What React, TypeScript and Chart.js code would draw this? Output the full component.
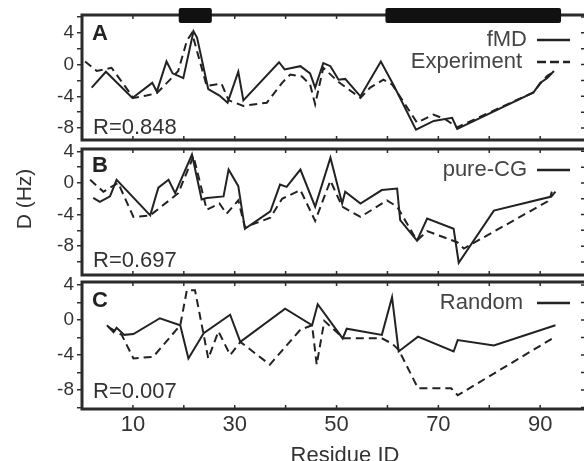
import React, { useEffect, useRef } from "react";
import { Chart, registerables } from "chart.js";

Chart.register(...registerables);

const FONT = '"Liberation Sans", Arial, Helvetica, sans-serif';
const INK = "#222";

// ---- axes ----
const xMin = 0;
const xMax = 99;
const xTickValues = [10, 20, 30, 40, 50, 60, 70, 80, 90];
const xLabelValues = [10, 30, 50, 70, 90];
const yTickValues = [-10, -8, -6, -4, -2, 0, 2, 4, 6];
const yLabelValues = [-8, -4, 0, 4];

// secondary-structure bars (residue ranges)
const helixStart = [19, 59.6];
const helixEnd = [25.5, 94.1];

type Pt = [number, number];

// ---- Panel A ----
const fmdA: Pt[] = [
  [1.9, -2.9], [4.7, -0.9], [9.9, -4.2], [13.8, -2.3], [14.7, -3.4], [16.6, 0.4],
  [17.8, -1.1], [19.9, -1.7], [21.9, 4.2], [22.6, 3.4], [24.8, -3.1], [27.0, -3.9],
  [28.6, -4.8], [30.7, -0.9], [31.7, -4.5], [38.7, 0.3], [39.8, -0.6], [42.9, -0.2],
  [44.8, -1.1], [45.8, -2.9], [47.4, 0.2], [48.8, -0.2], [50.4, -1.9], [51.7, -1.8],
  [54.7, -4.0], [58.7, 0.4], [61.3, -2.7], [65.6, -8.2], [69.1, -7.1], [72.7, -6.7],
  [73.7, -8.1], [88.7, -3.5], [90.0, -2.3], [91.4, -1.7], [92.7, -0.8],
];
const expA: Pt[] = [
  [0.6, 0.4], [2.9, -0.8], [5.8, -0.4], [9.1, -3.3], [10.1, -4.2], [12.7, -3.9],
  [14.7, -3.6], [17.3, -1.9], [18.9, -0.8], [20.6, 3.0], [21.6, 4.0], [24.5, -2.7],
  [27.4, -2.4], [28.8, -4.5], [31.7, -5.2], [36.3, -4.8], [39.3, -2.3], [40.9, -1.25],
  [43.2, -1.5], [44.8, -2.5], [45.8, -5.0], [47.4, -0.4], [50.4, -2.2], [54.7, -4.2],
  [56.6, -2.9], [59.2, -1.9], [60.9, -2.5], [65.8, -7.3], [69.0, -6.3], [71.4, -6.9],
  [73.7, -7.9], [88.7, -3.5], [90.0, -2.4], [91.4, -1.4], [92.7, -0.9],
];

// ---- Panel B ----
const cgB: Pt[] = [
  [2.2, -1.9], [3.5, -2.4], [5.5, -1.7], [6.8, 0.4], [13.4, -4.1], [15.0, -0.6],
  [17.0, 0.4], [18.3, -1.3], [21.6, 3.6], [23.5, -2.1], [24.5, -1.9], [27.8, -1.7],
  [28.8, 1.7], [30.7, -0.4], [32.0, -5.8], [37.0, -3.6], [38.9, -0.2], [40.2, -0.5],
  [42.9, 1.7], [45.8, -3.0], [48.8, 3.2], [51.1, -2.6], [51.7, -1.1], [54.7, -2.6],
  [58.9, -0.9], [61.9, -0.7], [62.5, -4.7], [65.8, -7.3], [67.8, -4.5], [73.0, -5.8],
  [74.0, -10.1], [80.9, -3.5], [92.0, -1.75], [92.3, -1.1],
];
const expB: Pt[] = [
  [1.6, 0.4], [4.2, -1.1], [7.1, 0.0], [10.1, -4.3], [13.4, -4.1], [18.9, -1.3],
  [21.9, 3.4], [24.5, -3.4], [27.0, -2.6], [28.4, -3.9], [30.7, -2.2], [32.0, -5.6],
  [37.0, -4.4], [39.3, -2.0], [42.9, -0.9], [45.8, -4.8], [48.8, 0.3], [51.1, -3.0],
  [54.7, -4.3], [59.9, -2.2], [61.9, -3.0], [65.8, -7.3], [67.8, -6.1], [73.7, -7.5],
  [75.0, -8.3], [91.4, -2.35], [93.0, -1.1],
];

// ---- Panel C ----
const randC: Pt[] = [
  [4.9, -0.6], [6.2, -1.4], [6.8, -0.9], [8.3, -1.7], [10.1, -1.6], [15.3, 0.2],
  [19.3, -0.6], [20.9, -4.4], [23.9, -1.5], [29.1, 0.6], [31.1, -2.5], [39.9, 1.3],
  [45.2, -0.6], [46.3, 1.8], [51.2, -2.1], [52.0, -1.0], [58.9, -1.7], [60.9, 2.6],
  [62.2, -3.6], [66.0, -1.9], [73.0, -3.6], [73.8, -2.3], [80.9, -2.9], [93.0, -0.6],
];
const expC: Pt[] = [
  [5.2, -0.8], [7.8, -1.7], [10.1, -4.4], [14.0, -4.2], [19.3, -0.6], [20.6, 3.4],
  [22.2, 3.4], [24.8, -4.4], [26.8, -1.3], [29.1, -4.0], [31.1, -2.5], [36.9, -5.1],
  [42.9, -1.1], [45.2, -0.6], [46.1, -5.1], [47.6, -0.1], [51.4, -2.1], [58.9, -2.1],
  [60.9, -2.7], [62.2, -3.4], [66.0, -7.8], [72.5, -7.8], [73.8, -8.6], [93.0, -1.9],
];

const toXY = (pts: Pt[]) => pts.map(([x, y]) => ({ x, y }));

interface LegendItem { label: string; dashed: boolean; y: number; textRight: number }
interface Series { label: string; pts: Pt[]; dashed: boolean }
interface PanelDef {
  top: number; height: number; padTop: number; padBottom: number;
  yMin: number; yMax: number;
  series: Series[];
  letter: string; letterY: number; rText: string; rY: number;
  legend: LegendItem[];
  showX?: boolean; helices?: boolean;
  yTitle?: { x: number; y: number; text: string };
  xTitle?: { x: number; y: number; text: string };
}

const panels: PanelDef[] = [
  {
    top: 0, height: 160, padTop: 15, padBottom: 20, yMin: -9.5, yMax: 6.25,
    series: [
      { label: "fMD", pts: fmdA, dashed: false },
      { label: "Experiment", pts: expA, dashed: true },
    ],
    letter: "A", letterY: 34, rText: "R=0.848", rY: 128,
    legend: [
      { label: "fMD", dashed: false, y: 40, textRight: 527 },
      { label: "Experiment", dashed: true, y: 62, textRight: 522 },
    ],
    helices: true,
  },
  {
    top: 125, height: 170, padTop: 24, padBottom: 20, yMin: -11.65, yMax: 4.3,
    series: [
      { label: "pure-CG", pts: cgB, dashed: false },
      { label: "Experiment", pts: expB, dashed: true },
    ],
    letter: "B", letterY: 166, rText: "R=0.697", rY: 261,
    legend: [{ label: "pure-CG", dashed: false, y: 170, textRight: 527 }],
    yTitle: { x: 25, y: 199, text: "D (Hz)" },
  },
  {
    top: 258, height: 215, padTop: 24, padBottom: 34, yMin: -10.17, yMax: 4.34,
    series: [
      { label: "Random", pts: randC, dashed: false },
      { label: "Experiment", pts: expC, dashed: true },
    ],
    letter: "C", letterY: 301, rText: "R=0.007", rY: 392,
    legend: [{ label: "Random", dashed: false, y: 303, textRight: 523 }],
    showX: true,
    xTitle: { x: 345, y: 462, text: "Residue ID" },
  },
];

function decor(def: PanelDef) {
  return {
    id: "decor" + def.letter,
    afterDraw(chart: any) {
      const { ctx, chartArea: a } = chart;
      const x = chart.scales.x;
      const y = chart.scales.y;
      const off = def.top;
      ctx.save();
      // frame
      ctx.setLineDash([]);
      ctx.strokeStyle = "#2b2b2b";
      ctx.lineWidth = 3;
      ctx.strokeRect(a.left, a.top, a.right - a.left, a.bottom - a.top);
      // inward x ticks on top and bottom
      ctx.lineWidth = 1.5;
      ctx.beginPath();
      xTickValues.forEach((v) => {
        const px = x.getPixelForValue(v);
        ctx.moveTo(px, a.top);
        ctx.lineTo(px, a.top + 4);
        ctx.moveTo(px, a.bottom);
        ctx.lineTo(px, a.bottom - 4);
      });
      // inward ticks on right side
      yTickValues.forEach((v) => {
        if (v < def.yMin || v > def.yMax) return;
        const py = y.getPixelForValue(v);
        ctx.moveTo(a.right, py);
        ctx.lineTo(a.right - 5, py);
      });
      ctx.stroke();
      // secondary structure bars
      if (def.helices) {
        ctx.fillStyle = "#111";
        helixStart.forEach((s, i) => {
          const x1 = x.getPixelForValue(s);
          const x2 = x.getPixelForValue(helixEnd[i]);
          const yy = 8 - off;
          ctx.beginPath();
          if ((ctx as any).roundRect) (ctx as any).roundRect(x1, yy, x2 - x1, 15, 2);
          else ctx.rect(x1, yy, x2 - x1, 15);
          ctx.fill();
        });
      }
      // panel letter
      ctx.fillStyle = "#222";
      ctx.font = `bold 22px ${FONT}`;
      ctx.textAlign = "left";
      ctx.textBaseline = "middle";
      ctx.fillText(def.letter, 92, def.letterY - off);
      // R value
      ctx.fillStyle = "#333";
      ctx.font = `22px ${FONT}`;
      ctx.fillText(def.rText, 93, def.rY - off);
      // legend
      def.legend.forEach((it) => {
        ctx.fillStyle = "#444";
        ctx.font = `22px ${FONT}`;
        ctx.textAlign = "right";
        ctx.textBaseline = "middle";
        ctx.fillText(it.label, it.textRight, it.y - off);
        ctx.strokeStyle = "#222";
        ctx.lineWidth = 2.5;
        ctx.setLineDash(it.dashed ? [9, 4] : []);
        ctx.beginPath();
        ctx.moveTo(537, it.y - off);
        ctx.lineTo(570, it.y - off);
        ctx.stroke();
        ctx.setLineDash([]);
      });
      // axis titles
      if (def.yTitle) {
        ctx.save();
        ctx.translate(def.yTitle.x, def.yTitle.y - off);
        ctx.rotate(-Math.PI / 2);
        ctx.fillStyle = "#333";
        ctx.font = `21px ${FONT}`;
        ctx.textAlign = "center";
        ctx.textBaseline = "middle";
        ctx.fillText(def.yTitle.text, 0, 0);
        ctx.restore();
      }
      if (def.xTitle) {
        ctx.fillStyle = "#333";
        ctx.font = `22px ${FONT}`;
        ctx.textAlign = "center";
        ctx.textBaseline = "alphabetic";
        ctx.fillText(def.xTitle.text, def.xTitle.x, def.xTitle.y - off);
      }
      ctx.restore();
    },
  };
}

function Panel({ def }: { def: PanelDef }) {
  const ref = useRef<HTMLCanvasElement | null>(null);
  useEffect(() => {
    if (!ref.current) return;
    const chart = new Chart(ref.current, {
      type: "line",
      data: {
        datasets: def.series.map((s) => ({
          label: s.label,
          data: toXY(s.pts),
          borderColor: INK,
          borderWidth: 2,
          borderDash: s.dashed ? [8, 5] : [],
          pointRadius: 0,
          fill: false,
          tension: 0,
        })),
      },
      options: {
        responsive: false,
        animation: false,
        devicePixelRatio: 1,
        events: [],
        layout: { padding: { left: 0, right: 4, top: def.padTop, bottom: def.padBottom } },
        plugins: { legend: { display: false }, tooltip: { enabled: false } },
        scales: {
          x: {
            type: "linear",
            min: xMin,
            max: xMax,
            display: !!def.showX,
            afterBuildTicks: (s: any) => {
              s.ticks = xTickValues.map((v) => ({ value: v }));
            },
            afterFit: (s: any) => {
              s.height = def.showX ? 30 : 0;
            },
            ticks: {
              autoSkip: false,
              maxRotation: 0,
              padding: 3,
              color: "#333",
              font: { family: FONT, size: 22 },
              callback: (v: any) => (xLabelValues.includes(Number(v)) ? String(v) : ""),
            },
            grid: { display: false, drawTicks: false },
            border: { display: false },
          },
          y: {
            type: "linear",
            min: def.yMin,
            max: def.yMax,
            afterFit: (s: any) => {
              s.width = 82;
            },
            afterBuildTicks: (s: any) => {
              s.ticks = yTickValues
                .filter((v) => v >= def.yMin && v <= def.yMax)
                .map((v) => ({ value: v }));
            },
            ticks: {
              autoSkip: false,
              padding: 3,
              color: "#333",
              font: { family: FONT, size: 19 },
              callback: (v: any) => (yLabelValues.includes(Number(v)) ? String(v) : ""),
            },
            grid: { drawOnChartArea: false, drawTicks: true, tickLength: 5, color: "#333", lineWidth: 1.5 },
            border: { display: false },
          },
        },
      } as any,
      plugins: [decor(def)],
    });
    return () => chart.destroy();
  }, [def]);
  return (
    <canvas
      ref={ref}
      width={590}
      height={def.height}
      style={{ position: "absolute", left: 0, top: def.top, width: 590, height: def.height }}
    />
  );
}

export default function App() {
  return (
    <div
      style={{
        position: "fixed",
        left: 0,
        top: 0,
        width: 584,
        height: 461,
        overflow: "hidden",
        background: "#fff",
      }}
    >
      {panels.map((p) => (
        <Panel key={p.letter} def={p} />
      ))}
    </div>
  );
}
